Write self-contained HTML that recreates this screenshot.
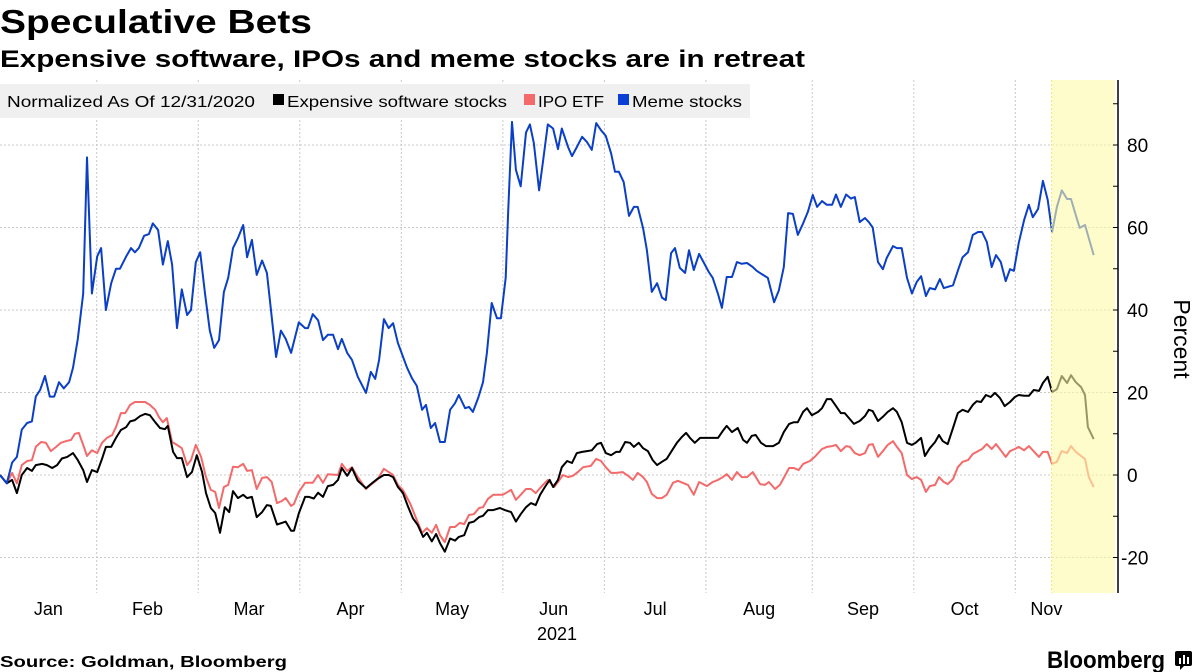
<!DOCTYPE html>
<html><head><meta charset="utf-8"><style>
html,body{margin:0;padding:0;background:#fff;}
svg{display:block;font-family:"Liberation Sans",sans-serif;}
</style></head><body>
<svg id="chart" width="1198" height="672" xmlns="http://www.w3.org/2000/svg">
<text x="0" y="33" font-size="33" font-weight="bold" textLength="312" lengthAdjust="spacingAndGlyphs">Speculative Bets</text>
<text x="0" y="67" font-size="24" font-weight="bold" textLength="805" lengthAdjust="spacingAndGlyphs">Expensive software, IPOs and meme stocks are in retreat</text>
<g id="plot"></g>
<g>
<rect x="0" y="84" width="750" height="34" fill="#f0f0f0"/>
<text x="7" y="107" font-size="16" textLength="248" lengthAdjust="spacingAndGlyphs">Normalized As Of 12/31/2020</text>
<g><rect x="273" y="94" width="11" height="11" fill="#000"/><text x="287" y="107" font-size="16" textLength="220" lengthAdjust="spacingAndGlyphs">Expensive software stocks</text></g>
<g><rect x="524" y="94" width="11" height="11" fill="#f46a6a"/><text x="538" y="107" font-size="16" textLength="66" lengthAdjust="spacingAndGlyphs">IPO ETF</text></g>
<g><rect x="618" y="94" width="11" height="11" fill="#0a3fd6"/><text x="632" y="107" font-size="16" textLength="110" lengthAdjust="spacingAndGlyphs">Meme stocks</text></g>
</g>
<text x="0" y="667" font-size="16" font-weight="bold" textLength="287" lengthAdjust="spacingAndGlyphs">Source: Goldman, Bloomberg</text>
<text x="1047" y="668" font-size="24" font-weight="bold" textLength="118" lengthAdjust="spacingAndGlyphs">Bloomberg</text>
<g><rect x="1175" y="651" width="17" height="15" rx="2" fill="#000"/><rect x="1179" y="658" width="2" height="6" fill="#fff"/><rect x="1183" y="655" width="2" height="9" fill="#fff"/><rect x="1187" y="657" width="2" height="7" fill="#fff"/><polygon points="1180,666 1184,666 1180,670" fill="#000"/></g>
</svg>
<script>
const yTicks=[-20,0,20,40,60,80];
const monthLabels=["Jan","Feb","Mar","Apr","May","Jun","Jul","Aug","Sep","Oct","Nov"];
const monthStarts=[0,20,41,62,83,104,125,146,168,189,210];
const highlightStart=217.5;
const highlightEnd=230.5;
const memeDays=[0,1.4,2.5,3.5,4.5,5.6,6.6,7.4,8.3,9.3,10.3,11.2,12.2,13.2,14.3,15.1,16.1,17.2,18.0,19.0,20.1,20.9,21.9,23.0,24.0,24.8,26.1,27.1,27.9,28.7,29.8,30.8,31.6,32.7,33.7,34.7,35.6,36.6,37.6,38.7,39.5,40.5,41.4,42.4,43.4,44.3,45.3,46.3,47.2,48.2,49.2,50.3,51.1,52.1,53.1,54.2,55.2,57.1,58.1,59.1,60.2,61.8,63.1,63.7,64.7,65.8,66.8,67.8,68.9,69.9,70.7,71.8,72.8,74.0,75.7,76.7,77.6,78.4,79.4,80.4,81.3,82.3,84.2,85.2,86.2,87.3,88.1,89.1,90.0,91.0,92.0,93.1,94.1,94.9,96.2,97.0,97.8,98.9,99.9,100.7,101.7,102.8,103.6,104.6,105.1,105.9,106.7,107.7,108.8,109.6,110.4,111.5,112.3,113.3,114.4,115.4,116.2,117.5,118.3,119.3,120.4,121.4,122.4,123.3,124.3,125.3,126.4,127.2,128.0,129.0,130.1,131.1,131.9,133.0,133.8,134.8,135.9,136.9,137.7,138.8,139.6,140.6,141.7,142.5,143.5,144.6,145.6,146.6,147.4,148.5,149.3,150.3,151.4,152.4,153.4,154.5,155.7,156.5,157.8,158.8,160.1,161.1,162.1,163.0,164.0,165.0,166.1,167.1,168.1,169.0,170.0,171.0,172.1,172.9,173.9,175.0,176.0,176.8,177.8,178.9,179.7,180.5,181.6,182.6,183.4,184.7,185.5,186.5,187.6,188.6,189.6,190.5,191.5,192.3,193.4,194.4,195.2,197.1,198.3,199.1,200.2,201.2,202.3,203.1,204.1,205.1,206.0,207.0,208.0,208.9,209.7,210.7,211.8,212.8,213.6,214.7,215.7,216.7,217.6,218.6,219.6,220.7,221.5,222.5,223.3,224.4,226.2];
const memeVals=[0,-2,3,4.4,11,12.6,13,19,20.6,24,19,19,22.5,21,22.5,26,33,44,77,44,53,55,40,46.5,50,50,53,55,54,55,58,58.4,61,59.4,51,56.7,51,35.6,45,38.8,40,51.6,54,44,35,30.8,32.7,44.4,47.8,55,57.4,60.6,52.8,57,48.5,52,49,28.6,35,33,29.6,37,35.6,35.6,39,37.5,32.7,34,34,30.5,33,29.6,27.9,23.8,19.9,25,23.3,27.9,37.8,35.6,36.8,32,26,23.5,21.6,15.8,17,11.4,12.6,8,8,15.8,17.4,19.4,16.2,16.5,15.3,18.7,22.5,29.6,41.7,38,38,47.8,64,85.6,74,70,83,85,80.5,69,76,85,84,79,84,79.5,77.3,79.5,82,80.7,78.8,85.3,83.6,82.2,78,73.5,73.5,71,62.8,65,65,59.8,54.5,44.4,46.5,43,42.4,53.8,55,50.2,49,54.5,49.7,53.6,51.4,49.2,47.8,43.9,40.5,48,48,51.6,51.2,51.4,50.4,49.5,48.5,47.8,41.9,44.8,50.4,63.5,63.3,58.2,61,63.8,67.9,65,66.4,65.5,65.5,68,65,68,67,67.4,61.3,62.3,61.3,60,51.6,49.9,52.6,55.5,55,55,47.8,44,46.8,48.2,43.4,45.3,45,47.5,45.3,46,50.2,52.8,54,58.2,58.9,58.9,56.5,50.4,53.3,51.6,47,49.9,49.5,56.2,61.8,65.5,62.5,64.5,71.3,66.7,58.9,65,69,66.9,66.9,63,59.9,60.6,53.3];
const softDays=[0,1.4,2.5,3.5,4.5,5.6,6.6,7.4,8.7,9.7,10.8,11.8,12.8,13.9,15.1,16.1,17.2,18.0,19.0,20.1,21.1,21.9,23.0,24.0,25.0,26.1,26.9,27.9,29.0,30.0,31.0,32.1,33.1,34.1,34.7,35.8,36.6,37.6,38.7,39.7,40.7,41.8,42.6,43.6,44.5,45.5,46.5,47.4,48.2,49.2,50.3,51.1,52.1,53.1,54.2,55.2,56.0,57.3,58.3,59.1,60.2,60.8,61.8,63.1,63.9,64.9,65.8,66.8,67.8,68.9,69.9,70.7,71.8,72.8,74.0,75.7,76.7,78.0,79.4,80.4,81.3,82.3,83.3,84.4,85.4,86.4,87.5,88.3,89.3,90.2,91.0,92.0,93.1,94.1,94.9,96.0,97.0,98.0,99.1,99.9,100.9,102.0,103.4,104.4,105.7,106.7,107.7,108.8,109.8,110.8,111.7,112.7,113.7,114.4,115.4,116.2,117.3,118.3,119.3,120.4,121.4,122.4,123.5,124.3,125.3,126.4,127.4,128.2,129.3,130.3,131.1,132.1,133.0,134.0,135.0,135.9,136.9,137.9,139.0,140.0,141.0,141.9,142.7,143.7,144.8,145.8,148.5,149.5,150.3,151.4,152.6,153.7,154.5,155.5,156.3,157.4,158.4,159.9,161.1,162.1,163.2,164.2,165.0,166.1,166.9,167.9,169.2,170.0,171.0,171.9,172.9,173.9,174.7,175.6,176.6,177.8,178.9,179.7,180.5,181.6,182.6,183.6,184.7,185.5,186.5,187.6,188.6,189.4,190.5,191.3,192.3,193.4,194.2,195.0,196.0,197.1,198.1,199.1,200.2,201.2,202.0,202.9,203.9,204.9,205.8,206.8,207.8,208.9,209.9,210.7,211.8,212.8,213.8,214.9,215.7,216.7,217.6,218.6,219.6,220.7,221.5,222.5,223.6,224.4,225.0,226.2];
const softVals=[0,-2,-1.2,-4.4,0,1.7,1,2.4,2.7,2.4,1.7,2.4,4,4.4,5.3,3.6,1.2,-1.7,1.2,0.7,3.9,6.8,6.8,9,10.9,11.6,13,13.3,14.3,14.8,14.5,12.8,11.4,11.1,11.9,5.6,4.1,4.1,-0.5,0.7,4.8,0.7,-4.4,-8,-9.2,-14,-7.8,-9,-3.9,-5.6,-4.8,-5.6,-5.3,-10.2,-9,-7.3,-7.5,-12,-11.6,-11.3,-13.5,-13.5,-9.3,-5.3,-5.3,-5.7,-4.3,-5.3,-2.7,-2.4,-1.2,1.7,-0.2,1.7,-1.4,-3.2,-2.2,-1,0,0,-0.5,-2.9,-4.3,-7.7,-10.5,-12.1,-15,-14,-16.1,-14.3,-16.5,-18.6,-15.4,-15.9,-15,-14.6,-11.6,-11.3,-10.2,-9.9,-8.5,-8.5,-8,-8.5,-9,-11.3,-9.5,-7.8,-6.8,-7.3,-4.8,-2.9,-1.2,-2.9,-1.2,1.9,3.4,2.9,5.3,5.6,5.8,6,7.5,7.8,5.3,4.8,5.6,5.6,8,7.8,6.8,7.8,6.5,5.8,3.6,2.4,3.2,3.9,6,7.8,9.2,10.2,9,7.8,9,9,9,10.7,11.9,10.4,11.4,8.5,7.8,9.5,9.7,7.8,7,7,7.8,10.4,12.4,12.8,12.8,15.3,16.2,14.5,15.3,16.2,18.4,18.4,16.7,15,15,13.8,12.4,13.1,14.3,15.8,15.5,13.1,14.1,15.3,16.2,15.3,12.8,7.8,7.3,7.8,9,4.6,6.5,8,9.7,8.2,7.5,11.4,15,15.8,15.3,17,17.9,17.7,19.4,18.9,19.9,18.7,16.7,17.7,18.9,19.4,19.2,19.2,20.6,20.4,22.3,23.8,20.1,20.8,24,22.3,24.2,22.5,21.3,19.4,11.6,8.7];
const ipoDays=[0,1.4,2.5,3.5,4.5,5.6,6.6,7.4,8.5,9.5,10.5,11.6,12.6,13.6,14.7,15.5,16.3,17.2,18.0,19.0,20.1,21.1,22.1,23.2,24.0,25.0,25.9,26.9,27.9,29.0,30.0,31.0,32.1,32.9,33.7,34.5,35.6,36.6,37.6,38.7,39.5,40.5,41.6,42.6,43.6,44.5,45.3,46.3,47.2,48.2,49.2,50.3,51.1,52.1,53.1,54.2,55.2,56.2,57.3,58.3,59.1,60.2,60.8,61.8,63.1,64.7,65.8,66.8,67.8,69.9,70.7,71.8,72.8,74.0,75.7,76.7,78.0,79.4,80.4,81.3,82.3,83.3,84.8,86.2,87.3,88.3,89.3,90.2,91.0,92.0,93.1,94.1,95.1,96.0,97.0,98.0,99.1,99.9,100.9,102.0,104.0,105.7,106.7,107.7,108.8,109.8,110.8,111.9,113.3,114.6,115.4,116.4,117.5,118.5,119.5,120.6,122.2,123.3,124.3,125.3,126.4,127.4,128.8,129.9,130.9,131.9,133.0,133.8,134.8,135.9,136.9,137.9,139.2,140.2,141.2,142.3,143.5,144.6,146.2,147.4,148.5,149.5,150.3,151.4,152.4,153.4,154.5,155.7,157.2,158.2,159.0,160.3,161.3,162.1,163.2,164.2,165.2,166.1,167.5,168.5,170.0,171.0,172.1,172.9,173.9,175.0,175.8,176.8,177.8,178.9,179.7,180.5,181.6,182.6,183.6,184.7,185.5,186.5,187.6,188.6,189.6,190.5,191.5,192.3,193.4,194.2,195.2,196.0,197.1,198.1,199.1,200.2,201.2,202.3,203.1,204.1,205.1,206.0,207.0,208.0,208.9,209.9,210.7,211.8,212.8,213.6,214.9,215.7,216.7,217.6,218.6,219.6,220.7,221.5,222.5,223.6,224.4,225.2,226.2];
const ipoVals=[0,-2,0.5,-2,2.4,3.4,3.6,6.8,8,7.8,5.8,6.8,7.8,8.2,8.5,10,10.2,7.3,4.6,6,5.3,7.8,9,9.7,11.6,15,15,17,17.7,17.7,17.7,17,15.8,14,12.8,13.8,8,7.3,6.5,2.4,3.6,7.3,4.4,-0.5,-3.6,-4.1,-8,-2.9,-2.4,2,1.9,2.7,1,1.2,-3.4,-0.7,-0.5,-1.7,-6.8,-6.3,-5.6,-7.5,-7,-4.1,-1.9,-1.9,0,-1.9,0.2,0,2.7,1,1.9,-0.5,-3.4,-2.4,-1.2,1.5,0.7,0,-2.4,-3.6,-6.8,-10.9,-14,-12.9,-14,-12.1,-14.6,-16.3,-12.6,-12.6,-11.6,-11.9,-9.7,-9.5,-8,-7.8,-5.8,-4.8,-4.8,-3.6,-6,-4.8,-3.4,-3.4,-4.4,-2.9,-1.2,-2.9,-1.7,0,-0.5,-0.2,0.7,1.9,2.2,3.9,3.4,1.9,0.5,0.5,0.7,-0.2,-1.2,0.5,-0.5,-1.7,-4.6,-5.6,-5.6,-4.8,-1.9,-1.4,-1.9,-2.4,-4.8,-1.7,-2.7,-1.7,-1.2,-0.5,0.2,-1.2,0.7,-0.5,-0.5,0.7,-2.2,-2.4,-1.7,-3.4,-2.4,-0.7,1.7,1.7,1.2,2.7,3.4,4.4,6.3,6.8,7,7.3,5.8,7,6.8,5.3,4.8,5.3,7.3,7.5,4.4,5.8,7.3,8.2,6.8,5.3,0,-1,-0.5,-1.2,-4.1,-2.7,-2.4,-0.5,-1.7,-2.2,-1,1.9,3.2,3.6,5.1,5.8,6.3,7.5,6.3,7.5,6,4.4,5.8,6.3,6.8,6,7,6,4.4,5.6,5.6,2.7,3.2,5.8,5.3,7,5.6,4.6,3.9,-0.5,-2.9];

const NS="http://www.w3.org/2000/svg";
const plot=document.getElementById('plot');
const X0=0,PX_PER_DAY=4.835,Y0=475,PX_PER_UNIT=4.125,TOP=80,BOTTOM=593,RIGHT=1118;
function xs(d){return X0+d*PX_PER_DAY;}
function ys(v){return Y0-v*PX_PER_UNIT;}
function mk(tag,attrs,parent){const e=document.createElementNS(NS,tag);for(const k in attrs)e.setAttribute(k,attrs[k]);(parent||plot).appendChild(e);return e;}

yTicks.forEach(v=>{
  const l=mk('line',{x1:0,x2:RIGHT,y1:ys(v),y2:ys(v),stroke:'#c8c8c8','stroke-width':1,'stroke-dasharray':'2,2'});
  
  
});
monthStarts.forEach((d,i)=>{
  if(i>0){
    const l=mk('line',{x1:xs(d),x2:xs(d),y1:TOP,y2:BOTTOM,stroke:'#c8c8c8','stroke-width':1,'stroke-dasharray':'2,2'});
    
    
  }
  const next=i<monthStarts.length-1?monthStarts[i+1]:d+15;
  const cx=i===monthStarts.length-1?xs(d)+31:(xs(d)+xs(next))/2;
  const t=mk('text',{x:cx,y:615,'font-size':18,'text-anchor':'middle',fill:'#000'});
  t.textContent=monthLabels[i];
  
  
});
const yr=mk('text',{x:557,y:640,'font-size':18,'text-anchor':'middle'});
yr.textContent='2021';



function drawLine(days,vals,color,name){
  let d='';
  for(let i=0;i<days.length;i++){d+=(i?'L':'M')+xs(days[i]).toFixed(1)+','+ys(vals[i]).toFixed(1);}
  const p=mk('path',{d:d,fill:'none',stroke:color,'stroke-width':2,'stroke-linejoin':'round'});
  
  
}
drawLine(ipoDays,ipoVals,'#f46a6a','ipo-etf-line');
drawLine(softDays,softVals,'#000000','software-line');
drawLine(memeDays,memeVals,'#0a3fc6','meme-line');

const hb=mk('rect',{x:xs(highlightStart),y:TOP,width:RIGHT-3-xs(highlightStart),height:BOTTOM-TOP,fill:'#fffaa8','fill-opacity':0.6});


const hbl=mk('line',{x1:xs(highlightStart),x2:xs(highlightStart),y1:TOP,y2:BOTTOM,stroke:'#f2e870','stroke-width':1,'stroke-dasharray':'2,2'});



const ax=mk('line',{x1:RIGHT,x2:RIGHT,y1:TOP,y2:BOTTOM,stroke:'#000','stroke-width':1.5});


for(let v=-30;v<=90;v+=10){
  const y=ys(v);
  if(y<TOP||y>BOTTOM)continue;
  const tk=mk('line',{x1:RIGHT-5,x2:RIGHT,y1:y,y2:y,stroke:'#000','stroke-width':1});
  
  
}
yTicks.forEach(v=>{
  const t=mk('text',{x:v<0?1121:1127,y:ys(v)+7,'font-size':19});
  t.textContent=v<0?'-'+Math.abs(v):String(v);
  
  
});
const yt=mk('text',{x:0,y:0,'font-size':23,'text-anchor':'middle',transform:'translate(1174,339) rotate(90)'});
yt.textContent='Percent';


</script>
</body></html>
